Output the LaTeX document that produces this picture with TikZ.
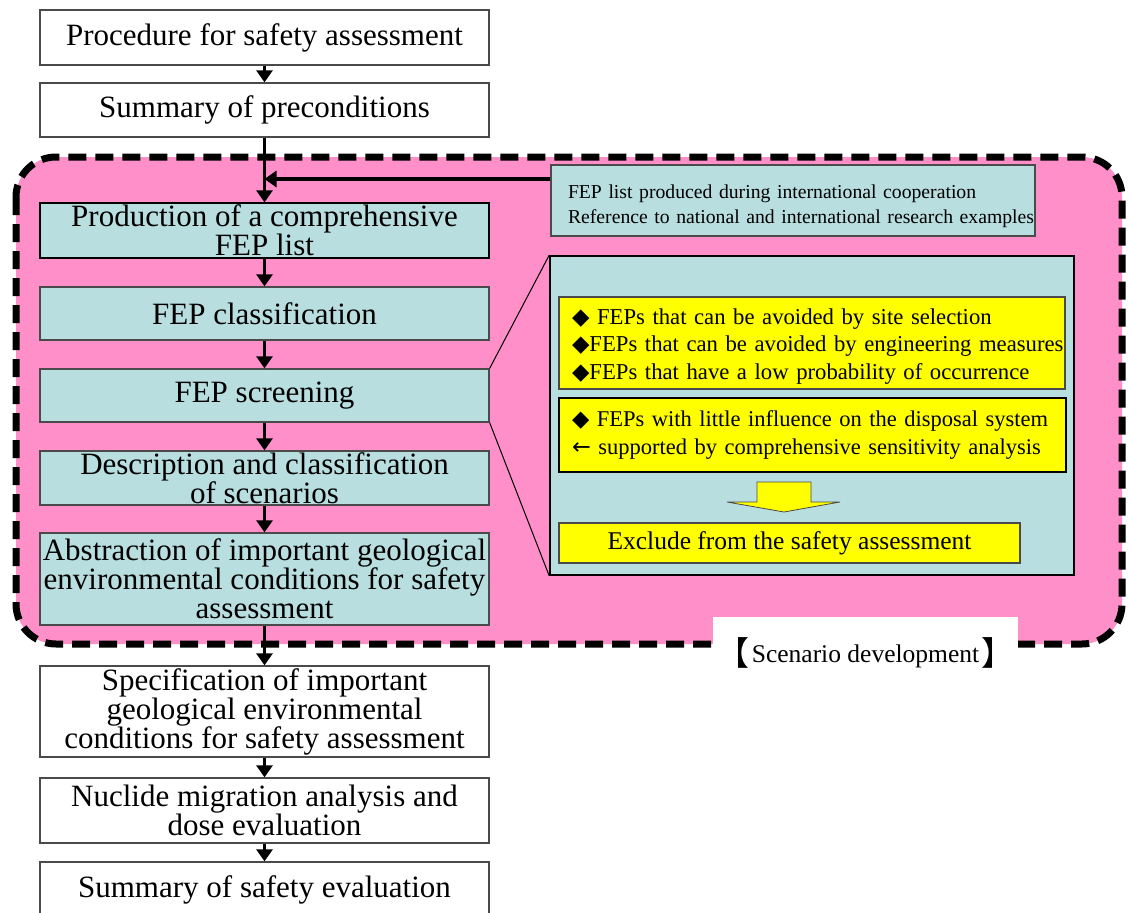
\documentclass[tikz,border=0pt]{standalone}
\usepackage{fontspec}
\setmainfont{Liberation Serif}
\newfontfamily\cjkfont{Noto Sans CJK JP}
\newfontfamily\dingfont{DejaVu Sans}
\usepackage{tikz}
\usetikzlibrary{arrows.meta,calc}
\definecolor{scenpink}{HTML}{FF8FC8}
\definecolor{fepblue}{HTML}{B8DEE0}
\definecolor{markyellow}{HTML}{FFFF00}
\definecolor{boxgray}{HTML}{4A4A4A}
\newcommand{\dia}{{\dingfont\char"25C6}}
\newcommand{\larr}{{\dingfont\char"2190}}

\begin{document}
\begin{tikzpicture}[x=1pt,y=-1pt,
  stagebox/.style={draw=boxgray,line width=1.3pt,fill=white,minimum width=449pt,
    inner sep=0pt,align=center,font=\fontsize{31}{29}\selectfont},
  fepstage/.style={stagebox,fill=fepblue},
  hilite/.style={draw=boxgray,line width=1.3pt,fill=markyellow,inner sep=0pt},
  flow/.style={line width=2.8pt,-{Triangle[width=16pt,length=12pt]}},
  zoomline/.style={line width=1pt,black}
]
\useasboundingbox (0,0) rectangle (1128,913);
% scenario development region
\draw[line width=7pt,dash pattern=on 18pt off 9pt,fill=scenpink,rounded corners=40pt]
  (16,157) rectangle (1122,644);

% main column
\node[stagebox,minimum height=55pt] (proc) at (264.5,37.5) {Procedure for safety assessment};
\node[stagebox,minimum height=54pt] (precond) at (264.5,110) {Summary of preconditions};
\node[fepstage,minimum height=55pt,draw=black] (feplist) at (264.5,230.5)
  {Production of a comprehensive\\FEP list};
\node[fepstage,minimum height=53pt] (fepclass) at (264.5,313.5) {FEP classification};
\node[fepstage,minimum height=53pt] (fepscreen) at (264.5,395.5) {FEP screening};
\node[fepstage,minimum height=54pt] (scen) at (264.5,478)
  {Description and classification\\of scenarios};
\node[fepstage,minimum height=92pt] (abstr) at (264.5,579)
  {Abstraction of important geological\\environmental conditions for safety\\assessment};
\node[stagebox,minimum height=91pt] (spec) at (264.5,711.5)
  {Specification of important\\geological environmental\\conditions for safety assessment};
\node[stagebox,minimum height=65pt] (nucl) at (264.5,810.5)
  {Nuclide migration analysis and\\dose evaluation};
\node[stagebox,minimum height=55pt] (safety) at (264.5,889.5) {Summary of safety evaluation};

\coordinate (join) at (264.5,179);
\draw[flow] (proc) -- (precond);
\draw[flow] (precond) -- (feplist);
\draw[flow] (feplist) -- (fepclass);
\draw[flow] (fepclass) -- (fepscreen);
\draw[flow] (fepscreen) -- (scen);
\draw[flow] (scen) -- (abstr);
\draw[flow] (abstr) -- (spec);
\draw[flow] (spec) -- (nucl);
\draw[flow] (nucl) -- (safety);

% FEP sources
\node[draw=boxgray,line width=1.3pt,fill=fepblue,minimum height=71pt,text width=450pt,
  inner xsep=17pt,inner ysep=0pt,align=left,font=\fontsize{19.7}{25}\selectfont]
  (fepsrc) at (793,200.5)
  {\rule{0pt}{25pt}\mbox{FEP list produced during international cooperation}\\
   \mbox{Reference to national and international research examples}};
\draw[flow,line width=3.2pt] (fepsrc.west |- join) -- (join);

% screening detail
\node[draw=black,line width=1.6pt,fill=fepblue,minimum width=524pt,minimum height=319pt]
  (detail) at (812,415.5) {};
\node[hilite,minimum height=92pt,text width=480pt,inner xsep=13pt,align=left,
  font=\fontsize{22.7}{27.5}\selectfont] (avoid) at (812,343)
  {\rule{0pt}{22pt}\mbox{\dia\ FEPs that can be avoided by site selection}\\
   \mbox{\dia FEPs that can be avoided by engineering measures}\\
   \mbox{\dia FEPs that have a low probability of occurrence}};
\node[hilite,draw=black,line width=2pt,minimum height=74pt,text width=481pt,inner xsep=13pt,
  align=left,font=\fontsize{22.5}{28}\selectfont] (minor) at (812.5,435)
  {\mbox{\dia\ FEPs with little influence on the disposal system}\\
   \mbox{\larr\ supported by comprehensive sensitivity analysis}};
\filldraw[fill=markyellow,draw=boxgray,line width=0.8pt]
  (757,482) -- (811,482) -- (811,502) -- (840,502) -- (784,512) -- (727,502)
  -- (757,502) -- cycle;
\node[hilite,minimum width=461pt,minimum height=40pt,font=\fontsize{25.5}{28}\selectfont]
  (exclude) at (789.5,543) {Exclude from the safety assessment};

\draw[zoomline] (fepscreen.north east) -- (detail.north west);
\draw[zoomline] (fepscreen.south east) -- (detail.south west);

% region label
\node[fill=white,minimum width=305pt,minimum height=55pt,inner sep=0pt,
  text height=40pt,text depth=5pt,font=\fontsize{25.5}{28}\selectfont] (scenlabel) at (865.5,644.5)
  {\raisebox{-3pt}{\fontsize{33}{33}\cjkfont 【}\hspace{2pt}Scenario development\hspace{2pt}\raisebox{-3pt}{\fontsize{33}{33}\cjkfont 】}};
\end{tikzpicture}
\end{document}
